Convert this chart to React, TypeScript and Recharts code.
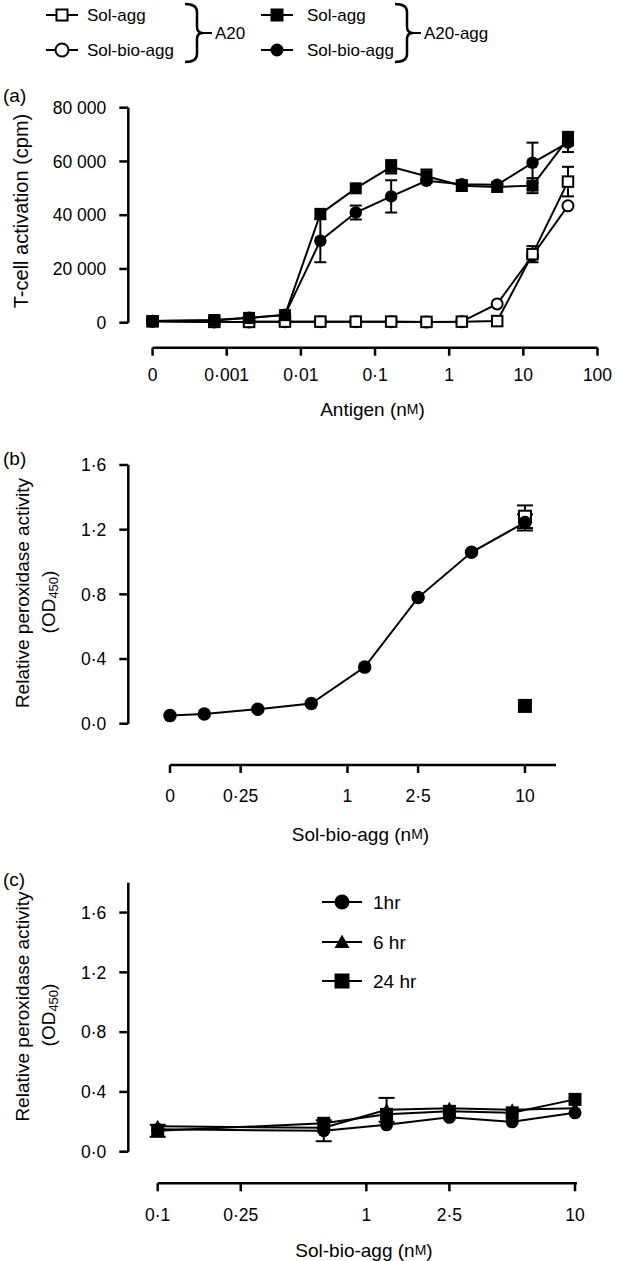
import React from 'react';
import { ErrorBar, Legend, Line, LineChart, ReferenceLine, XAxis, YAxis } from 'recharts';

const FONT = '"Liberation Sans", Arial, Helvetica, sans-serif';
const INK = '#000';

// (a) T-cell activation against antigen, 3-fold dilutions down from 40 nM
const antigenNm = [0, 0.00068, 0.002, 0.0061, 0.0183, 0.055, 0.165, 0.494, 1.48, 4.44, 13.3, 40];
const a20SolAgg = [500, 300, 300, 400, 400, 400, 400, 300, 400, 600, 25500, 52500];
const a20SolAggErr = [0, 0, 0, 0, 0, 0, 0, 0, 0, 0, 3000, 5500];
const a20SolBioAgg = [500, 300, 300, 400, 400, 400, 400, 300, 400, 7000, 25000, 43500];
const aggSolAgg = [600, 1000, 1800, 2800, 40500, 50000, 58000, 54500, 51000, 50500, 51000, 68500];
const aggSolAggErr = [0, 0, 0, 0, 0, 0, 2500, 2500, 2000, 0, 2800, 2500];
const aggSolBioAgg = [600, 800, 1800, 3000, 30500, 41000, 47000, 52800, 51500, 51300, 59500, 67000];
const aggSolBioAggErr = [0, 0, 0, 0, 8000, 2600, 6000, 0, 0, 0, 7500, 3500];
const aTickNm = [0, 0.001, 0.01, 0.1, 1, 10, 100];
const aTickLabels = ['0', '0·001', '0·01', '0·1', '1', '10', '100'];
const aYTicks = [0, 20000, 40000, 60000, 80000];

// (b) peroxidase signal against Sol-bio-agg, 2-fold dilutions
const bioAggNm = [0, 0.156, 0.3125, 0.625, 1.25, 2.5, 5, 10];
const bioAggOd = [0.05, 0.06, 0.09, 0.125, 0.35, 0.78, 1.06, 1.245];
const bioAggOdErr = [0, 0, 0, 0, 0, 0, 0, 0.05];
const ctrlNm = [10];
const ctrlOpenOd = [1.28];
const ctrlOpenErr = [0.07];
const ctrlFilledOd = [0.11];
const bTickNm = [0, 0.25, 1, 2.5, 10];
const bTickLabels = ['0', '0·25', '1', '2·5', '10'];
const odTicks = [0, 0.4, 0.8, 1.2, 1.6];

// (c) peroxidase signal after 1, 6 and 24 hr
const timeNm = [0.1, 0.625, 1.25, 2.5, 5, 10];
const od1h = [0.15, 0.14, 0.18, 0.23, 0.2, 0.26];
const od1hErr = [0, 0.07, 0, 0, 0, 0];
const od6h = [0.17, 0.16, 0.28, 0.29, 0.28, 0.29];
const od6hErr = [0, 0, 0.08, 0, 0, 0];
const od24h = [0.14, 0.19, 0.25, 0.27, 0.26, 0.35];
const od24hErr = [0.04, 0, 0, 0, 0, 0];
const cTickNm = [0.1, 0.25, 1, 2.5, 10];
const cTickLabels = ['0·1', '0·25', '1', '2·5', '10'];

// broken log axis: a zero concentration sits one break-step left of the first decade
const logPos = (zeroAt: number) => (nm: number) => (nm === 0 ? zeroAt : Math.log10(nm));
const aPos = logPos(-4);
const bPos = logPos(-1);
const err = (v: number) => (v ? v : undefined);

const rowsA = antigenNm.map((nm, i) => ({
  pos: aPos(nm),
  a20SolAgg: a20SolAgg[i],
  a20SolAggErr: err(a20SolAggErr[i]),
  a20SolBioAgg: a20SolBioAgg[i],
  aggSolAgg: aggSolAgg[i],
  aggSolAggErr: err(aggSolAggErr[i]),
  aggSolBioAgg: aggSolBioAgg[i],
  aggSolBioAggErr: err(aggSolBioAggErr[i]),
}));
const rowsB = bioAggNm.map((nm, i) => ({ pos: bPos(nm), od: bioAggOd[i], odErr: err(bioAggOdErr[i]) }));
const ctrlOpenRows = ctrlNm.map((nm, i) => ({ pos: bPos(nm), od: ctrlOpenOd[i], odErr: err(ctrlOpenErr[i]) }));
const ctrlFilledRows = ctrlNm.map((nm, i) => ({ pos: bPos(nm), od: ctrlFilledOd[i] }));
const rowsC = timeNm.map((nm, i) => ({
  pos: Math.log10(nm),
  h1: od1h[i],
  h1Err: err(od1hErr[i]),
  h6: od6h[i],
  h6Err: err(od6hErr[i]),
  h24: od24h[i],
  h24Err: err(od24hErr[i]),
}));

const A_X: [number, number] = [-4.3275, 2.007];
const A_Y: [number, number] = [-9302, 80000];
const B_X: [number, number] = [-1.235, 1.175];
const B_Y: [number, number] = [-0.2554, 1.6];
const C_X: [number, number] = [-1.141, 1.0096];
const C_Y: [number, number] = [-0.2115, 1.8];

type Shape = 'circle' | 'square' | 'triangle';

function Marker({ cx, cy, shape, size, open }: { cx: number; cy: number; shape: Shape; size: number; open?: boolean }) {
  const h = size / 2;
  const r = open ? h - 1 : h;
  const fill = open ? '#fff' : INK;
  const sw = open ? 2 : 0;
  if (shape === 'square') {
    return <rect x={cx - r} y={cy - r} width={2 * r} height={2 * r} fill={fill} stroke={INK} strokeWidth={sw} />;
  }
  if (shape === 'triangle') {
    return <polygon points={`${cx},${cy - h} ${cx + h},${cy + h * 0.8} ${cx - h},${cy + h * 0.8}`} fill={fill} />;
  }
  return <circle cx={cx} cy={cy} r={r} fill={fill} stroke={INK} strokeWidth={sw} />;
}

const dot = (shape: Shape, size: number, open = false) => (p: any) =>
  p.cx == null ? <g key={`dot-${p.index}`} /> : <Marker key={`dot-${p.index}`} cx={p.cx} cy={p.cy} shape={shape} size={size} open={open} />;

const tickText = { fill: INK, fontSize: 17.5, fontFamily: FONT };
const tickLine = { stroke: INK, strokeWidth: 2.5 };
const unitM = <tspan fontSize={14}>M</tspan>;

const xTitle = (x: number, y: number, text: string) => () => (
  <text x={x} y={y} textAnchor="middle" dominantBaseline="central" fill={INK} fontFamily={FONT} fontSize={19}>
    {text} (n{unitM})
  </text>
);

const od450 = (
  <>
    (OD<tspan dy={5} fontSize={13}>450</tspan>
    <tspan dy={-5}>)</tspan>
  </>
);

const yTitle = (letter: string, letterY: number, lines: React.ReactNode[], xs: number[], ys: number[], fontSize = 19) => () => (
  <g fill={INK} fontFamily={FONT}>
    <text x={3} y={letterY} fontSize={19} dominantBaseline="central">
      {letter}
    </text>
    {lines.map((ln, i) => (
      <text key={i} transform={`translate(${xs[i]},${ys[i]}) rotate(-90)`} textAnchor="middle" dominantBaseline="central" fontSize={fontSize}>
        {ln}
      </text>
    ))}
  </g>
);

function Brace({ x0, xv, xt, xl, top, bot, label }: { x0: number; xv: number; xt: number; xl: number; top: number; bot: number; label: string }) {
  const mid = (top + bot) / 2;
  const d = `M ${x0} ${top} Q ${xv} ${top} ${xv} ${top + 8} L ${xv} ${mid - 6} Q ${xv} ${mid} ${xt} ${mid} Q ${xv} ${mid} ${xv} ${mid + 6} L ${xv} ${bot - 8} Q ${xv} ${bot} ${x0} ${bot}`;
  return (
    <g>
      <path d={d} fill="none" stroke={INK} strokeWidth={2.5} />
      <line x1={xt} y1={mid} x2={xl} y2={mid} stroke={INK} strokeWidth={2} />
      <text x={xl + 3} y={mid} dominantBaseline="central" fontSize={17} fontFamily={FONT} fill={INK}>
        {label}
      </text>
    </g>
  );
}

const topLegendRows = [
  { name: 'Sol-agg', shape: 'square' as Shape },
  { name: 'Sol-bio-agg', shape: 'circle' as Shape },
];
const rowY = [15, 50];

function TopLegend() {
  const group = (mx: number, tx: number, open: boolean) =>
    topLegendRows.map((r, i) => (
      <g key={`${mx}-${i}`}>
        <line x1={mx - 16} y1={rowY[i]} x2={mx + 16} y2={rowY[i]} stroke={INK} strokeWidth={2} />
        <Marker cx={mx} cy={rowY[i]} shape={r.shape} size={r.shape === 'circle' && open ? 15 : 13} open={open} />
        <text x={tx} y={rowY[i]} dominantBaseline="central" fontSize={17} fontFamily={FONT} fill={INK}>
          {r.name}
        </text>
      </g>
    ));
  return (
    <svg width={617} height={70} style={{ display: 'block' }}>
      {group(62, 87, true)}
      <Brace x0={185} xv={197} xt={203} xl={212} top={4} bot={62} label="A20" />
      {group(277, 307, false)}
      <Brace x0={395} xv={407} xt={413} xl={421} top={4} bot={62} label="A20-agg" />
    </svg>
  );
}

const timeLegend = [
  { name: '1hr', shape: 'circle' as Shape },
  { name: '6 hr', shape: 'triangle' as Shape },
  { name: '24 hr', shape: 'square' as Shape },
];

function TimeLegend() {
  const ys = [32, 72, 111];
  return (
    <svg width={140} height={130} style={{ display: 'block' }}>
      {timeLegend.map((t, i) => (
        <g key={t.name}>
          <line x1={22} y1={ys[i]} x2={62} y2={ys[i]} stroke={INK} strokeWidth={2} />
          <Marker cx={42} cy={ys[i]} shape={t.shape} size={15} />
          <text x={73} y={ys[i]} dominantBaseline="central" fontSize={19} fontFamily={FONT} fill={INK}>
            {t.name}
          </text>
        </g>
      ))}
    </svg>
  );
}

function PanelA() {
  return (
    <LineChart width={617} height={430} data={rowsA} margin={{ top: 107.7, right: 19, bottom: 22.3, left: 68.3 }}>
      <XAxis
        type="number"
        dataKey="pos"
        domain={A_X}
        ticks={aTickNm.map(aPos)}
        interval={0}
        tickFormatter={(_v: number, i: number) => aTickLabels[i]}
        axisLine={false}
        stroke={INK}
        tickLine={tickLine}
        tickSize={8}
        tickMargin={13}
        tick={tickText}
        height={60}
        label={xTitle(372.5, 409, 'Antigen')}
      />
      <YAxis
        type="number"
        domain={A_Y}
        ticks={aYTicks}
        interval={0}
        tickFormatter={(v: number) => (v === 0 ? '0' : `${v / 1000} 000`)}
        axisLine={false}
        stroke={INK}
        tickLine={tickLine}
        tickSize={9}
        tickMargin={13}
        tick={tickText}
        width={60}
        label={yTitle('(a)', 95, ['T-cell activation (cpm)'], [21], [211], 20)}
      />
      <ReferenceLine segment={[{ x: A_X[0], y: 0 }, { x: A_X[0], y: 80000 }]} stroke={INK} strokeWidth={2.5} ifOverflow="visible" />
      <ReferenceLine segment={[{ x: -4, y: A_Y[0] }, { x: 2, y: A_Y[0] }]} stroke={INK} strokeWidth={2.5} ifOverflow="visible" />
      <Line dataKey="a20SolBioAgg" name="Sol-bio-agg" stroke={INK} strokeWidth={2} isAnimationActive={false} activeDot={false} dot={dot('circle', 13, true)} />
      <Line dataKey="a20SolAgg" name="Sol-agg" stroke={INK} strokeWidth={2} isAnimationActive={false} activeDot={false} dot={dot('square', 12.5, true)}>
        <ErrorBar dataKey="a20SolAggErr" direction="y" width={6} stroke={INK} strokeWidth={2} />
      </Line>
      <Line dataKey="aggSolBioAgg" name="Sol-bio-agg" stroke={INK} strokeWidth={2} isAnimationActive={false} activeDot={false} dot={dot('circle', 12.5)}>
        <ErrorBar dataKey="aggSolBioAggErr" direction="y" width={6} stroke={INK} strokeWidth={2} />
      </Line>
      <Line dataKey="aggSolAgg" name="Sol-agg" stroke={INK} strokeWidth={2} isAnimationActive={false} activeDot={false} dot={dot('square', 12)}>
        <ErrorBar dataKey="aggSolAggErr" direction="y" width={6} stroke={INK} strokeWidth={2} />
      </Line>
      <Legend content={TopLegend} layout="horizontal" verticalAlign="middle" align="center" wrapperStyle={{ left: 0, top: 0, width: 617, height: 70 }} />
    </LineChart>
  );
}

function PanelB() {
  return (
    <LineChart width={617} height={420} data={rowsB} margin={{ top: 35, right: 61, bottom: 25, left: 68.3 }}>
      <XAxis
        type="number"
        dataKey="pos"
        domain={B_X}
        ticks={bTickNm.map(bPos)}
        interval={0}
        tickFormatter={(_v: number, i: number) => bTickLabels[i]}
        axisLine={false}
        stroke={INK}
        tickLine={tickLine}
        tickSize={8}
        tickMargin={17}
        tick={tickText}
        height={60}
        label={xTitle(360.5, 404, 'Sol-bio-agg')}
      />
      <YAxis
        type="number"
        domain={B_Y}
        ticks={odTicks}
        interval={0}
        tickFormatter={(v: number) => v.toFixed(1).replace('.', '·')}
        axisLine={false}
        stroke={INK}
        tickLine={tickLine}
        tickSize={9}
        tickMargin={13}
        tick={tickText}
        width={60}
        label={yTitle('(b)', 28, ['Relative peroxidase activity', od450], [22, 48], [163, 172])}
      />
      <ReferenceLine segment={[{ x: B_X[0], y: 0 }, { x: B_X[0], y: 1.6 }]} stroke={INK} strokeWidth={2.5} ifOverflow="visible" />
      <ReferenceLine segment={[{ x: -1, y: B_Y[0] }, { x: B_X[1], y: B_Y[0] }]} stroke={INK} strokeWidth={2.5} ifOverflow="visible" />
      <Line data={ctrlOpenRows} dataKey="od" name="Sol-agg" stroke="none" isAnimationActive={false} activeDot={false} dot={dot('square', 14, true)}>
        <ErrorBar dataKey="odErr" direction="y" width={8} stroke={INK} strokeWidth={2} />
      </Line>
      <Line dataKey="od" name="Sol-bio-agg" stroke={INK} strokeWidth={2} isAnimationActive={false} activeDot={false} dot={dot('circle', 13.5)}>
        <ErrorBar dataKey="odErr" direction="y" width={8} stroke={INK} strokeWidth={2} />
      </Line>
      <Line data={ctrlFilledRows} dataKey="od" name="Control" stroke="none" isAnimationActive={false} activeDot={false} dot={dot('square', 14)} />
    </LineChart>
  );
}

function PanelC() {
  return (
    <LineChart width={617} height={411} data={rowsC} margin={{ top: 32.7, right: 40, bottom: 17.7, left: 68.3 }}>
      <XAxis
        type="number"
        dataKey="pos"
        domain={C_X}
        ticks={cTickNm.map((v) => Math.log10(v))}
        interval={0}
        tickFormatter={(_v: number, i: number) => cTickLabels[i]}
        axisLine={false}
        stroke={INK}
        tickLine={tickLine}
        tickSize={8}
        tickMargin={17}
        tick={tickText}
        height={60}
        label={xTitle(364, 400, 'Sol-bio-agg')}
      />
      <YAxis
        type="number"
        domain={C_Y}
        ticks={odTicks}
        interval={0}
        tickFormatter={(v: number) => v.toFixed(1).replace('.', '·')}
        axisLine={false}
        stroke={INK}
        tickLine={tickLine}
        tickSize={9}
        tickMargin={13}
        tick={tickText}
        width={60}
        label={yTitle('(c)', 29, ['Relative peroxidase activity', od450], [22, 48], [156.5, 165])}
      />
      <ReferenceLine segment={[{ x: C_X[0], y: 0 }, { x: C_X[0], y: C_Y[1] }]} stroke={INK} strokeWidth={2.5} ifOverflow="visible" />
      <ReferenceLine segment={[{ x: -1, y: C_Y[0] }, { x: C_X[1], y: C_Y[0] }]} stroke={INK} strokeWidth={2.5} ifOverflow="visible" />
      <Line dataKey="h6" name="6 hr" stroke={INK} strokeWidth={2} isAnimationActive={false} activeDot={false} dot={dot('triangle', 13)}>
        <ErrorBar dataKey="h6Err" direction="y" width={8} stroke={INK} strokeWidth={2} />
      </Line>
      <Line dataKey="h1" name="1hr" stroke={INK} strokeWidth={2} isAnimationActive={false} activeDot={false} dot={dot('circle', 13)}>
        <ErrorBar dataKey="h1Err" direction="y" width={8} stroke={INK} strokeWidth={2} />
      </Line>
      <Line dataKey="h24" name="24 hr" stroke={INK} strokeWidth={2} isAnimationActive={false} activeDot={false} dot={dot('square', 13)}>
        <ErrorBar dataKey="h24Err" direction="y" width={8} stroke={INK} strokeWidth={2} />
      </Line>
      <Legend content={TimeLegend} layout="horizontal" verticalAlign="middle" align="center" wrapperStyle={{ left: 300, top: 20, width: 140, height: 130 }} />
    </LineChart>
  );
}

export default function App() {
  return (
    <div style={{ position: 'absolute', left: 0, top: 0, width: 617, height: 1261, background: '#fff', fontFamily: FONT }}>
      <div style={{ position: 'absolute', left: 0, top: 0 }}>
        <PanelA />
      </div>
      <div style={{ position: 'absolute', left: 0, top: 430 }}>
        <PanelB />
      </div>
      <div style={{ position: 'absolute', left: 0, top: 850 }}>
        <PanelC />
      </div>
    </div>
  );
}
